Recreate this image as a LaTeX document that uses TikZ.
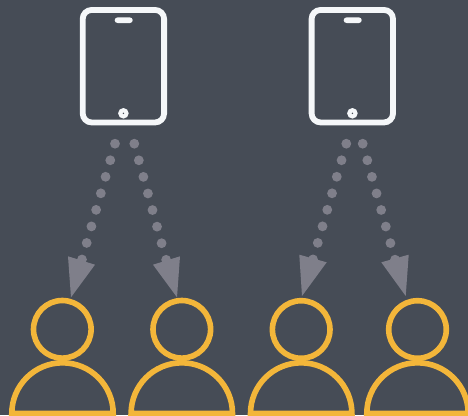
\documentclass[tikz,border=0pt]{standalone}
\definecolor{bgc}{HTML}{464C56}
\definecolor{tabc}{HTML}{F5F7F9}
\definecolor{dotc}{HTML}{7F7F8A}
\definecolor{orc}{HTML}{F3B63A}
\tikzset{
  tablet/.style={draw=tabc,line width=5.8pt,rounded corners=9pt,minimum width=81.4pt,minimum height=112.5pt,inner sep=0pt,outer sep=0pt},
  speaker/.style={fill=tabc,rounded corners=2.8pt,minimum width=18pt,minimum height=5.6pt,inner sep=0pt},
  homekey/.style={circle,fill=tabc,minimum size=10.6pt,inner sep=0pt},
  homedot/.style={circle,fill=bgc,minimum size=1.6pt,inner sep=0pt},
  head/.style={circle,draw=orc,line width=5.6pt,minimum size=57.6pt,inner sep=0pt,outer sep=0pt},
  body/.style={draw=orc,line width=5.6pt,line join=miter},
  dots/.style={draw=dotc,line width=9.8pt,line cap=round,dash pattern=on 0pt off 17.2pt},
  tip/.style={fill=dotc,draw=none}
}
\newcommand{\personbody}[2]{\draw[body] (#1-50.7,#2) arc (180:0:50.7pt) -- cycle;}
\begin{document}
\begin{tikzpicture}[x=1pt,y=-1pt]
\useasboundingbox (0,0) rectangle (468,415);
\fill[bgc] (0,0) rectangle (468,415);
\clip (0,0) rectangle (468,415);

\node[tablet] (t1) at (123.4,66.2) {};
\node[speaker] (s1) at (123.7,20.2) {};
\node[homekey] (k1) at (123.4,113.3) {};
\node[homedot] (d1) at (k1) {};
\node[tablet] (t2) at (352.3,66.2) {};
\node[speaker] (s2) at (352.7,20.2) {};
\node[homekey] (k2) at (352.4,113.3) {};
\node[homedot] (d2) at (k2) {};

\node[head] (p1) at (62.3,329.3) {};
\node[head] (p2) at (181.8,329.3) {};
\node[head] (p3) at (301.2,329.5) {};
\node[head] (p4) at (417.5,329.5) {};
\personbody{62.5}{413.5}
\personbody{181.8}{413.5}
\personbody{301.2}{413.5}
\personbody{417.5}{413.5}

\coordinate (a1) at (115,143.7);   \coordinate (e1) at (81.4,261.5);
\coordinate (a2) at (134.3,143.7); \coordinate (e2) at (166.6,261.5);
\coordinate (a3) at (346.3,143.7); \coordinate (e3) at (312.7,260.5);
\coordinate (a4) at (362.7,143.7); \coordinate (e4) at (395.3,260.5);
\draw[dots] (a1) -- (e1);
\draw[dots] (a2) -- (e2);
\draw[dots] (a3) -- (e3);
\draw[dots] (a4) -- (e4);
\fill[tip] (68,256.3) -- (95,264.7) -- (71,297.3) -- cycle;
\fill[tip] (180,256.3) -- (153,264.7) -- (177,297.3) -- cycle;
\fill[tip] (299.3,254.7) -- (326.7,262.3) -- (302,296) -- cycle;
\fill[tip] (408.7,254.7) -- (381.3,262.3) -- (405.7,296) -- cycle;
\end{tikzpicture}
\end{document}
